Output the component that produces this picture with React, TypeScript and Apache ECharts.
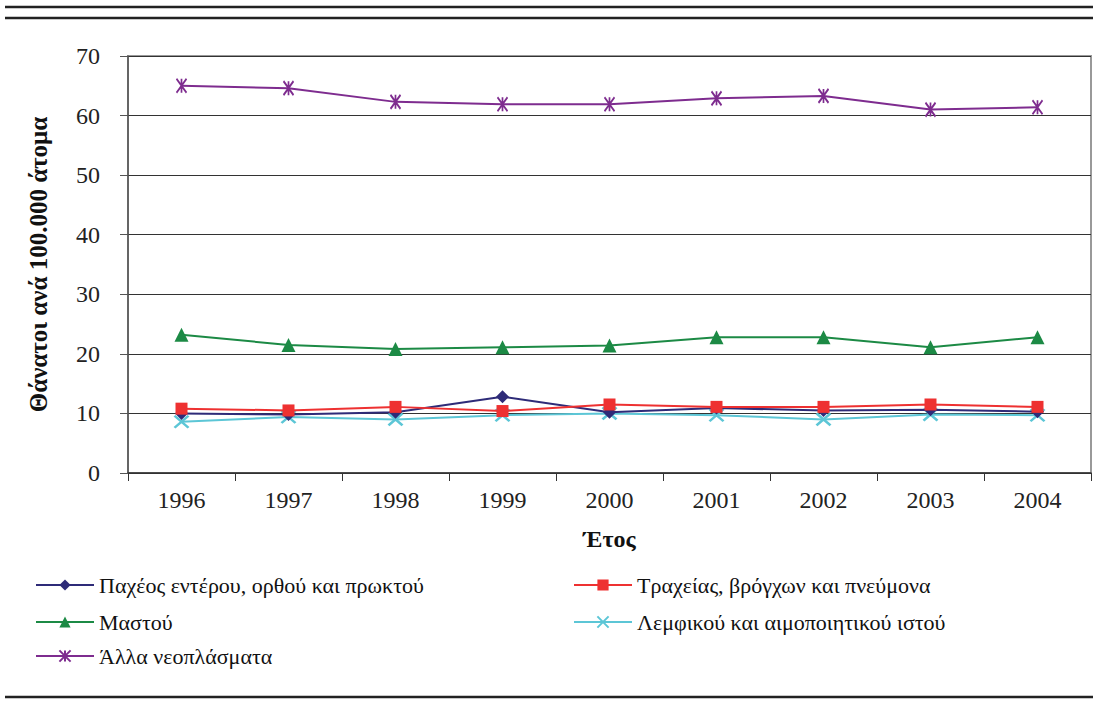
import React, { useEffect, useRef } from "react";
import * as echarts from "echarts";

const years = ["1996", "1997", "1998", "1999", "2000", "2001", "2002", "2003", "2004"];
const colorectal = [10.0, 9.8, 10.2, 12.8, 10.2, 10.9, 10.5, 10.6, 10.3];
const lung = [10.8, 10.5, 11.1, 10.4, 11.5, 11.1, 11.1, 11.5, 11.1];
const breast = [23.2, 21.5, 20.8, 21.1, 21.4, 22.8, 22.8, 21.1, 22.8];
const lymph = [8.6, 9.4, 9.0, 9.7, 10.0, 9.7, 9.0, 9.8, 9.7];
const other = [65.0, 64.6, 62.3, 61.9, 61.9, 62.9, 63.3, 61.0, 61.4];

const names = [
  "Παχέος εντέρου, ορθού και πρωκτού",
  "Τραχείας, βρόγχων και πνεύμονα",
  "Μαστού",
  "Λεμφικού και αιμοποιητικού ιστού",
  "Άλλα νεοπλάσματα",
];
const yTitle = "Θάνατοι ανά 100.000 άτομα";
const xTitle = "Έτος";

const FONT = "'Liberation Serif', 'DejaVu Serif', serif";

export default function App() {
  const ref = useRef<HTMLDivElement>(null);
  useEffect(() => {
    if (!ref.current) return;
    const chart = echarts.init(ref.current, null, { renderer: "svg" });
    const colors = ["#2E2B78", "#EE3131", "#1C8A45", "#5CC6D6", "#7E2C8F"];
    const mkLegend = (name: string, left: number, top: number) => ({
      data: [name],
      left,
      top,
      itemWidth: 58,
      itemHeight: 14,
      itemGap: 6,
      textStyle: { fontFamily: FONT, fontSize: 22, color: "#111", lineHeight: 22 },
    });
    const lineStyle = (c: string) => ({ color: c, width: 2 });
    chart.setOption({
      animation: false,
      textStyle: { fontFamily: FONT },
      grid: {
        left: 128,
        right: 2,
        top: 56,
        bottom: 229,
        show: true,
        borderColor: "#999",
        borderWidth: 2,
        containLabel: false,
      },
      legend: [
        mkLegend(names[0], 30, 569),
        mkLegend(names[1], 568, 569),
        mkLegend(names[2], 30, 606),
        mkLegend(names[3], 568, 606),
        mkLegend(names[4], 30, 640),
      ],
      xAxis: {
        type: "category",
        data: years,
        boundaryGap: true,
        axisLine: { lineStyle: { color: "#333", width: 1.5 } },
        axisTick: { show: true, length: 8, lineStyle: { color: "#333" } },
        axisLabel: { fontFamily: FONT, fontSize: 24, color: "#222", margin: 15 },
        name: xTitle,
        nameLocation: "middle",
        nameGap: 54,
        nameTextStyle: { fontFamily: FONT, fontSize: 24, fontWeight: "bold", color: "#111", verticalAlign: "top" },
      },
      yAxis: {
        type: "value",
        min: 0,
        max: 70,
        interval: 10,
        axisLine: { show: true, lineStyle: { color: "#555", width: 1.5 } },
        axisTick: { show: true, length: 8, lineStyle: { color: "#555" } },
        axisLabel: { fontFamily: FONT, fontSize: 24, color: "#222", margin: 28 },
        splitLine: { show: true, lineStyle: { color: "#333", width: 1 } },
        name: yTitle,
        nameLocation: "middle",
        nameGap: 77,
        nameRotate: 90,
        nameTextStyle: { fontFamily: FONT, fontSize: 25, fontWeight: "bold", color: "#111" },
      },
      series: [
        {
          name: names[0], type: "line", data: colorectal, symbol: "diamond", symbolSize: 13,
          lineStyle: lineStyle(colors[0]), itemStyle: { color: colors[0] }, z: 3,
        },
        {
          name: names[1], type: "line", data: lung, symbol: "rect", symbolSize: 12,
          lineStyle: lineStyle(colors[1]), itemStyle: { color: colors[1] }, z: 4,
        },
        {
          name: names[2], type: "line", data: breast, symbol: "triangle", symbolSize: 14,
          lineStyle: lineStyle(colors[2]), itemStyle: { color: colors[2] }, z: 3,
        },
        {
          name: names[3], type: "line", data: lymph, symbol: "path://M0,0L12,10M12,0L0,10", symbolSize: [14, 12],
          lineStyle: lineStyle(colors[3]), itemStyle: { color: colors[3], borderColor: colors[3], borderWidth: 2.5 }, z: 2,
        },
        {
          name: names[4], type: "line", data: other, symbol: "path://M0,0L10,14M10,0L0,14M5,0L5,14", symbolSize: [10, 14],
          lineStyle: lineStyle(colors[4]), itemStyle: { color: colors[4], borderColor: colors[4], borderWidth: 2 }, z: 3,
        },
      ],
      graphic: [
        { type: "line", shape: { x1: 5, y1: 7, x2: 1093, y2: 7 }, style: { stroke: "#222", lineWidth: 2.5 } },
        { type: "line", shape: { x1: 5, y1: 18, x2: 1093, y2: 18 }, style: { stroke: "#222", lineWidth: 2.5 } },
        { type: "line", shape: { x1: 5, y1: 697, x2: 1093, y2: 697 }, style: { stroke: "#222", lineWidth: 2.5 } },
      ],
    });
    return () => chart.dispose();
  }, []);
  return <div ref={ref} style={{ width: 1093, height: 702, position: "absolute", left: 0, top: 0 }} />;
}
